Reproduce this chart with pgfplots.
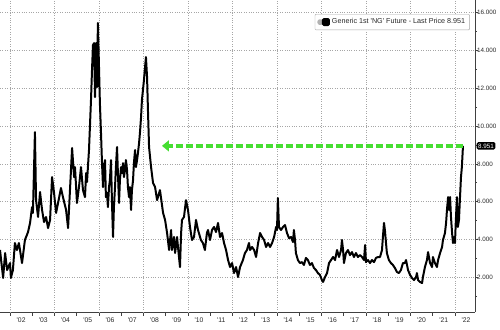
\documentclass[border=0pt]{standalone}
\usepackage{pgfplots}
\pgfplotsset{compat=1.18}
\usepackage{fontspec}
\setmainfont{Liberation Sans}
\usetikzlibrary{arrows.meta}
\definecolor{arrowgreen}{RGB}{70,222,50}
\definecolor{txt}{RGB}{40,40,40}
\newcommand{\q}{\textquotesingle}
\pgfplotstableread{
yr val
2001.55 3.44
2001.69 1.96
2001.78 3.28
2001.87 2.38
2002.00 2.75
2002.04 1.96
2002.13 2.38
2002.22 3.81
2002.31 3.44
2002.40 3.81
2002.54 2.75
2002.67 3.97
2002.81 4.39
2002.90 4.87
2002.99 5.71
2003.03 5.40
2003.12 9.68
2003.17 6.08
2003.26 5.19
2003.35 6.51
2003.44 5.56
2003.53 4.92
2003.62 5.19
2003.71 4.60
2003.80 5.03
2003.89 7.30
2003.98 6.46
2004.07 5.40
2004.16 5.93
2004.29 6.72
2004.38 6.24
2004.52 5.56
2004.61 4.60
2004.70 6.72
2004.79 8.84
2004.88 7.30
2004.92 7.83
2005.01 5.93
2005.10 6.77
2005.19 7.83
2005.28 6.61
2005.37 6.24
2005.42 7.51
2005.46 7.04
2005.55 8.73
2005.64 11.38
2005.69 13.12
2005.73 14.29
2005.78 14.39
2005.82 11.53
2005.87 14.39
2005.91 12.06
2005.95 15.45
2006.00 13.12
2006.04 11.22
2006.09 9.63
2006.13 8.20
2006.18 6.77
2006.22 7.83
2006.27 8.20
2006.31 6.24
2006.36 6.46
2006.40 5.71
2006.45 6.77
2006.49 7.14
2006.54 8.20
2006.58 6.08
2006.63 4.13
2006.67 5.71
2006.72 6.77
2006.76 7.83
2006.81 8.89
2006.85 7.51
2006.90 5.93
2006.94 7.14
2006.99 7.83
2007.03 7.51
2007.08 8.04
2007.12 7.30
2007.17 7.67
2007.21 8.20
2007.26 7.67
2007.30 6.77
2007.35 6.24
2007.39 6.77
2007.44 5.56
2007.48 6.61
2007.53 7.14
2007.57 8.04
2007.62 8.73
2007.66 7.83
2007.71 8.20
2007.75 8.57
2007.80 9.10
2007.84 9.63
2007.89 10.48
2007.93 11.38
2008.02 12.43
2008.07 13.12
2008.11 13.65
2008.16 12.59
2008.20 10.85
2008.25 8.89
2008.34 7.83
2008.43 6.98
2008.52 6.77
2008.61 6.08
2008.74 6.61
2008.88 5.40
2008.97 5.03
2009.06 4.34
2009.15 3.44
2009.24 4.50
2009.28 3.44
2009.37 4.13
2009.42 3.28
2009.51 4.13
2009.55 3.60
2009.64 2.54
2009.69 4.34
2009.73 5.03
2009.82 5.19
2009.91 6.08
2010.00 5.56
2010.09 4.66
2010.18 3.97
2010.27 4.13
2010.36 5.03
2010.45 4.50
2010.49 4.34
2010.58 3.97
2010.67 3.81
2010.76 3.44
2010.85 4.34
2010.90 4.50
2010.99 3.97
2011.08 4.50
2011.17 4.66
2011.26 4.39
2011.35 4.87
2011.44 4.13
2011.53 4.34
2011.62 3.81
2011.71 3.44
2011.80 2.91
2011.89 2.54
2011.98 2.75
2012.07 2.22
2012.16 2.54
2012.25 2.01
2012.34 2.54
2012.47 2.91
2012.56 3.28
2012.65 3.44
2012.74 3.81
2012.79 3.44
2012.88 3.60
2012.97 3.44
2013.06 3.07
2013.15 3.81
2013.24 4.34
2013.33 4.13
2013.42 3.97
2013.51 3.60
2013.60 3.81
2013.69 3.60
2013.78 3.81
2013.87 4.13
2013.96 4.66
2014.00 4.50
2014.04 6.19
2014.09 4.66
2014.18 4.50
2014.27 4.66
2014.36 4.76
2014.45 4.34
2014.54 4.07
2014.63 4.13
2014.72 3.86
2014.76 4.50
2014.81 3.97
2014.85 3.28
2014.94 2.91
2015.03 2.75
2015.12 2.80
2015.21 2.65
2015.30 3.02
2015.39 2.91
2015.48 2.65
2015.57 2.75
2015.66 2.49
2015.75 2.38
2015.84 2.22
2015.93 2.12
2016.02 1.85
2016.07 1.75
2016.16 2.01
2016.25 2.22
2016.34 2.75
2016.43 2.91
2016.52 3.07
2016.61 2.91
2016.70 3.44
2016.79 3.07
2016.88 3.44
2016.92 3.97
2016.97 3.44
2017.01 2.75
2017.10 3.28
2017.19 3.44
2017.28 3.17
2017.37 3.33
2017.46 3.07
2017.55 3.28
2017.64 3.07
2017.73 3.17
2017.82 3.07
2017.91 2.91
2017.96 3.70
2018.00 2.80
2018.09 2.91
2018.18 2.75
2018.27 2.91
2018.36 2.80
2018.45 3.02
2018.54 3.07
2018.63 3.07
2018.72 3.44
2018.76 4.13
2018.81 4.87
2018.85 4.50
2018.90 3.81
2018.94 3.28
2019.03 2.91
2019.12 2.75
2019.21 2.65
2019.30 2.49
2019.39 2.28
2019.48 2.22
2019.57 2.38
2019.66 2.75
2019.75 2.75
2019.80 2.91
2019.89 2.38
2019.98 2.12
2020.07 1.96
2020.16 1.85
2020.25 2.01
2020.29 2.22
2020.34 1.85
2020.43 1.75
2020.52 1.69
2020.56 2.01
2020.65 2.54
2020.74 2.91
2020.79 3.33
2020.88 2.75
2020.97 2.54
2021.01 3.07
2021.10 2.75
2021.19 2.54
2021.24 2.91
2021.33 3.28
2021.42 3.60
2021.46 3.97
2021.55 4.34
2021.60 4.87
2021.64 5.56
2021.69 6.24
2021.73 5.56
2021.78 6.24
2021.82 5.19
2021.87 4.34
2021.91 3.81
2021.96 4.13
2022.00 3.81
2022.04 5.03
2022.09 6.24
2022.13 4.66
2022.18 5.03
2022.22 6.08
2022.27 7.30
2022.31 7.83
2022.36 8.951
}\ngdata
\begin{document}
\begin{tikzpicture}
\path[use as bounding box, clip] (0,0) rectangle (500bp,330bp);
\begin{axis}[
  at={(0,18bp)}, anchor=south west,
  scale only axis, width=475bp, height=312bp,
  xmin=2001.55, xmax=2022.90, ymin=0.16, ymax=16.67,
  clip=false,
  axis x line*=bottom, axis y line*=right,
  axis line style={draw=black!75, line width=0.6pt},
  tick style={draw=black!75, line width=0.5pt},
  tick align=outside,
  major tick length=3.5bp, minor tick length=2bp,
  xtick={2002,...,2022},
  xticklabels={\q02,\q03,\q04,\q05,\q06,\q07,\q08,\q09,\q10,\q11,\q12,\q13,\q14,\q15,\q16,\q17,\q18,\q19,\q20,\q21,\q22},
  xticklabel style={xshift=11.1bp, yshift=1bp, font=\fontsize{6.8}{7}\selectfont, text=txt},
  extra x ticks={2002,2004,...,2022},
  extra x tick labels={},
  extra x tick style={grid=major, major tick length=0pt},
  ytick={2,4,...,16},
  minor ytick={1,3,...,15},
  ymajorgrids=true,
  grid style={dotted, line width=0.6pt, black!35},
  yticklabel style={font=\fontsize{6.3}{7}\selectfont, text=txt, xshift=-2.5bp, inner xsep=1bp,
    /pgf/number format/.cd, fixed, fixed zerofill, precision=3, assume math mode=true},
  legend style={at={(0.989,0.955)}, anchor=north east, draw=black!35, rounded corners=1bp,
    font=\fontsize{7.2}{8.5}\selectfont, inner xsep=2.5bp, inner ysep=2.5bp, text=txt},
  legend cell align=left,
  legend image code/.code={
    \fill[black!30] (-0.5bp,-1.8bp) rectangle (3bp,1.8bp);
    \fill[black] (4bp,-3bp) rectangle (10bp,3bp);
  },
]
\addplot[black, line width=2pt, line join=round] table[x=yr, y=val] {\ngdata};
\addlegendentry{Generic 1st \q NG\q{} Future - Last Price 8.951}
\draw[arrowgreen, line width=3.8bp, dash pattern=on 7bp off 3bp,
  -{Triangle[length=7bp, width=11bp]}]
  (axis cs:2022.36,8.951) -- (axis cs:2008.83,8.951);
\node[fill=black, text=white, anchor=west, inner xsep=1.5bp, inner ysep=1.5bp,
  rounded corners=1.5bp, font=\fontsize{6.3}{7}\selectfont]
  at (axis cs:2022.90,8.951) [xshift=1.5bp] {8.951};
\end{axis}
\end{tikzpicture}
\end{document}
